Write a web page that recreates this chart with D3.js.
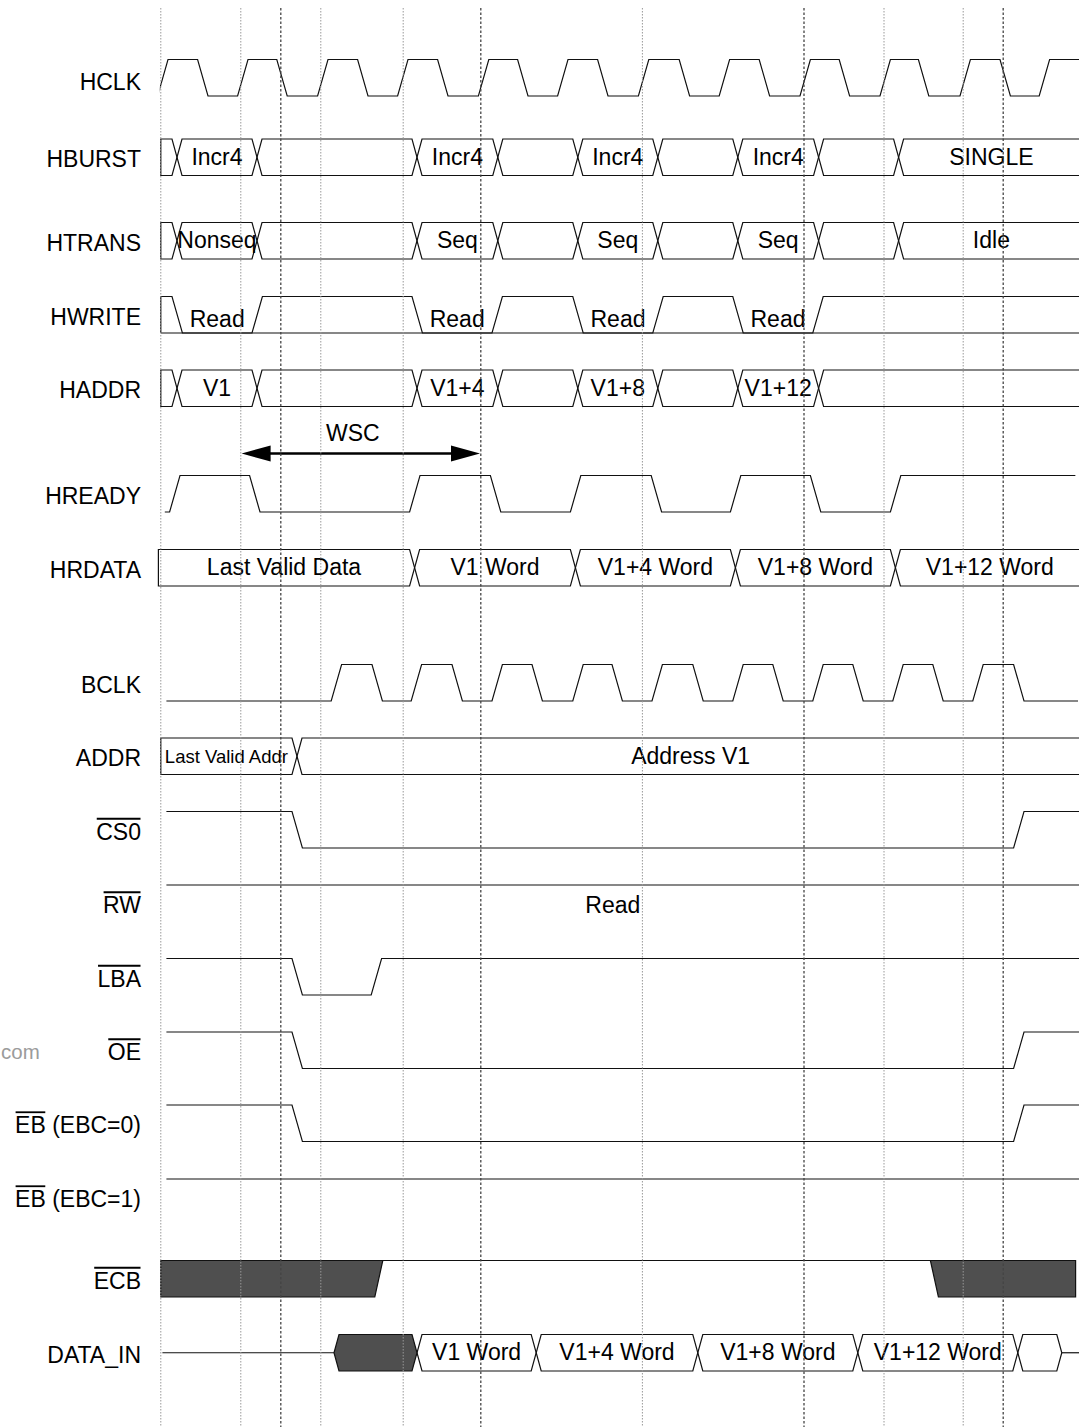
<!DOCTYPE html>
<html>
<head>
<meta charset="utf-8">
<script src="https://cdn.jsdelivr.net/npm/d3@7/dist/d3.min.js"></script>
<style>
html,body{margin:0;padding:0;background:#fff;}
svg{display:block;}
text{font-family:"Liberation Sans", Arial, Helvetica, sans-serif;}
</style>
</head>
<body>
<svg id="chart" width="1079" height="1427"></svg>
<script>
// ================= DATA (times in ns) =================
const signalNames = ["HCLK","HBURST","HTRANS","HWRITE","HADDR","HREADY","HRDATA","BCLK","ADDR","CS0","RW","LBA","OE","EB (EBC=0)","EB (EBC=1)","ECB","DATA_IN"];
const overlinedPart = [null,null,null,null,null,null,null,null,null,"CS0","RW","LBA","OE","EB","EB","ECB",null];

const gridLight = [0.1, 10.1, 20.1, 30.4, 60.3, 90.5, 100.4];
const gridHeavy = [15.1, 40.1, 80.5, 105.4];

const hclkRise = [-0.3, 9.7, 19.7, 29.7, 39.8, 49.7, 59.8, 69.9, 80.0, 90.0, 100.0, 109.9];
const hclkFall = [4.7, 14.6, 24.7, 34.7, 44.7, 54.7, 64.9, 74.9, 84.9, 94.8, 105.0];

const busTimes     = [0.1, 1.5, 11.5, 31.5, 41.6, 51.6, 61.6, 71.6, 81.7, 91.7];
const hburstValues = ["", "Incr4", "", "Incr4", "", "Incr4", "", "Incr4", "", "SINGLE"];
const htransValues = ["", "Nonseq", "", "Seq", "", "Seq", "", "Seq", "", "Idle"];
const haddrTimes   = [0.1, 1.5, 11.5, 31.5, 41.6, 51.6, 61.6, 71.6, 81.7];
const haddrValues  = ["", "V1", "", "V1+4", "", "V1+8", "", "V1+12", ""];

const hwriteRise = [11.5, 41.5, 61.6, 81.6];
const hwriteFall = [1.5, 31.5, 51.6, 71.6];
const hwriteText = ["Read", "Read", "Read", "Read"];

const hreadyRise = [1.2, 31.2, 51.3, 71.3, 91.3];
const hreadyFall = [11.2, 41.3, 61.4, 81.3];

const hrdataTimes  = [-0.2, 31.2, 51.3, 71.3, 91.3];
const hrdataValues = ["Last Valid Data", "V1 Word", "V1+4 Word", "V1+8 Word", "V1+12 Word"];

const wscSpan  = [10.2, 40.0];
const wscLabel = "WSC";

const bclkRise = [21.4, 31.4, 41.5, 51.6, 61.5, 71.6, 81.6, 91.6, 101.6];
const bclkFall = [26.5, 36.5, 46.5, 56.5, 66.6, 76.6, 86.6, 96.6, 106.7];

const addrTimes  = [0.1, 16.5];
const addrValues = ["Last Valid Addr", "Address V1"];

const cs0Rise = [106.7], cs0Fall = [16.5];
const rwText  = "Read";
const lbaRise = [26.4],  lbaFall = [16.5];
const oeRise  = [106.7], oeFall  = [16.5];
const eb0Rise = [106.7], eb0Fall = [16.5];

const ecbTimes  = [0.1, 26.85, 96.3];
const ecbValues = ["X", 1, "X"];

const dataInTimes  = [0.3, 21.75, 31.5, 46.4, 66.6, 86.6, 106.6, 112.1];
const dataInValues = ["Z", "X", "V1 Word", "V1+4 Word", "V1+8 Word", "V1+12 Word", "", "Z"];

const watermark = "com";

// ================= LAYOUT / STYLE =================
const rowTop = [59.5, 139, 222.5, 296.5, 370, 475.5, 549.5, 664.5, 738, 811.5, 885, 958.5, 1032, 1105, 1179, 1260.5, 1334.5];
const rowH = 36.5;
const labelRight = 141;
const FONT = 23;
const INK = "#111";
const X_FILL = "#4f4f4f";
const EDGE = 1.3, CROSS = 1.25, ECB_EDGE = 1.0;
const END = 114.9;

const edgesOf = (rise, fall) => rise.map(t => [t, 1]).concat(fall.map(t => [t, 0])).sort((a, b) => a[0] - b[0]);

const signals = [
  {type: "wave", init: 0, edges: edgesOf(hclkRise, hclkFall), start: 0.1, end: END},
  {type: "bus", times: busTimes, values: hburstValues, end: END},
  {type: "bus", times: busTimes, values: htransValues, end: END},
  {type: "wavebox", init: 1, edges: edgesOf(hwriteRise, hwriteFall), start: 0.1, end: END, lowText: hwriteText},
  {type: "bus", times: haddrTimes, values: haddrValues, end: END},
  {type: "wave", init: 0, edges: edgesOf(hreadyRise, hreadyFall), start: 0.6, end: 114.45},
  {type: "bus", times: hrdataTimes, values: hrdataValues, end: END},
  {type: "wave", init: 0, edges: edgesOf(bclkRise, bclkFall), start: 0.8, end: 114.75},
  {type: "bus", times: addrTimes, values: addrValues, end: END, sizes: [18.5, FONT]},
  {type: "wave", init: 1, edges: edgesOf(cs0Rise, cs0Fall), start: 0.8, end: END},
  {type: "wave", init: 1, edges: [], start: 0.8, end: END, text: rwText},
  {type: "wave", init: 1, edges: edgesOf(lbaRise, lbaFall), start: 0.8, end: END},
  {type: "wave", init: 1, edges: edgesOf(oeRise, oeFall), start: 0.8, end: END},
  {type: "wave", init: 1, edges: edgesOf(eb0Rise, eb0Fall), start: 0.8, end: END},
  {type: "wave", init: 1, edges: [], start: 0.8, end: END},
  {type: "mixed", times: ecbTimes, values: ecbValues, end: 114.45},
  {type: "bus", times: dataInTimes, values: dataInValues, end: END}
];

// ================= RENDER =================
const svg = d3.select("#chart");
const x = d3.scaleLinear().domain([0, 115]).range([160, 1080]);
const defs = svg.append("defs");
const gW = svg.append("g");
const gT = svg.append("g");
const gG = svg.append("g");

function yScale(i) { return d3.scaleLinear().domain([0, 1]).range([rowTop[i] + rowH, rowTop[i]]); }

function addText(g, str, px, py, size, anchor) {
  return g.append("text").attr("x", px).attr("y", py).attr("font-size", size)
    .attr("text-anchor", anchor || "middle").attr("fill", "#000").text(str);
}

signals.forEach((s, i) => {
  const y = yScale(i);
  const top = y(1), bot = y(0), mid = y(0.5);
  const g = gW.append("g");

  if (s.type === "wave" || s.type === "wavebox") {
    let lvl = s.init;
    const first = s.edges.length ? Math.min(s.start, s.edges[0][0]) : s.start;
    const pts = [];
    if (s.type === "wavebox") pts.push([s.start, 0]);
    pts.push([first, lvl]);
    s.edges.forEach(([t, l]) => { pts.push([t, lvl]); pts.push([t + EDGE, l]); lvl = l; });
    pts.push([s.end, lvl]);
    const clipId = "clip" + i;
    defs.append("clipPath").attr("id", clipId).append("rect")
      .attr("x", x(s.start) - 1).attr("y", top - 4)
      .attr("width", x(s.end) - x(s.start) + 1).attr("height", rowH + 8);
    g.append("path").attr("d", d3.line().x(d => x(d[0])).y(d => y(d[1]))(pts))
      .attr("fill", "none").attr("stroke", INK).attr("stroke-width", 1.2)
      .attr("stroke-linejoin", "miter").attr("clip-path", "url(#" + clipId + ")");
    if (s.type === "wavebox") {
      g.append("line").attr("x1", x(s.start)).attr("x2", x(s.end)).attr("y1", bot).attr("y2", bot)
        .attr("stroke", INK).attr("stroke-width", 1.2);
      let k = 0;
      s.edges.forEach(([t, l], j) => {
        if (l === 0 && j + 1 < s.edges.length && s.lowText[k] !== undefined) {
          const a = t + EDGE, b = s.edges[j + 1][0];
          addText(gT, s.lowText[k++], x((a + b) / 2), bot - 6.5, FONT);
        }
      });
    }
    if (s.text) addText(gT, s.text, x((s.start + s.end) / 2) - 10, top + 28, FONT);
  }

  if (s.type === "bus") {
    const n = s.times.length;
    const half = CROSS / 2;
    for (let k = 0; k < n; k++) {
      const v = s.values[k];
      const a = s.times[k];
      const last = k === n - 1;
      const b = last ? s.end : s.times[k + 1];
      const prevZ = k > 0 && s.values[k - 1] === "Z";
      if (v === "Z") {
        const lx = k === 0 ? a : a + half;
        g.append("line").attr("x1", x(lx)).attr("x2", x(b)).attr("y1", mid).attr("y2", mid)
          .attr("stroke", INK).attr("stroke-width", 1.2);
        continue;
      }
      let leftTip, leftOpen;
      if (k === 0) { leftTip = a; leftOpen = a; }
      else if (prevZ) { leftTip = a; leftOpen = a + half; }
      else { leftTip = a + half; leftOpen = a + CROSS; }
      const p = d3.path();
      if (last) {
        p.moveTo(x(b), top); p.lineTo(x(leftOpen), top);
        if (k === 0) p.lineTo(x(leftOpen), bot); else { p.lineTo(x(leftTip), mid); p.lineTo(x(leftOpen), bot); }
        p.lineTo(x(b), bot);
      } else {
        const rightTip = b + half;
        p.moveTo(x(leftOpen), top); p.lineTo(x(b), top); p.lineTo(x(rightTip), mid);
        p.lineTo(x(b), bot); p.lineTo(x(leftOpen), bot);
        if (k !== 0) p.lineTo(x(leftTip), mid);
        p.closePath();
      }
      g.append("path").attr("d", p.toString())
        .attr("fill", v === "X" ? X_FILL : "none")
        .attr("stroke", INK).attr("stroke-width", 1.2).attr("stroke-linejoin", "miter");
      if (v && v !== "X") {
        const size = s.sizes ? s.sizes[k] : FONT;
        addText(gT, v, x((leftOpen + b) / 2), mid + (size < FONT ? 6.5 : 7.5), size);
      }
    }
  }

  if (s.type === "mixed") {
    const n = s.times.length;
    for (let k = 0; k < n; k++) {
      const v = s.values[k];
      const a = s.times[k];
      const last = k === n - 1;
      const b = last ? s.end : s.times[k + 1];
      if (v === "X") {
        const lt = a, lb = k === 0 ? a : a + ECB_EDGE;
        const rt = last ? b : b + ECB_EDGE, rb = b;
        const poly = [[lt, 1], [rt, 1], [rb, 0], [lb, 0]];
        g.append("path").attr("d", d3.line().x(d => x(d[0])).y(d => y(d[1]))(poly) + "Z")
          .attr("fill", X_FILL).attr("stroke", INK).attr("stroke-width", 1.2);
      } else {
        const a2 = k === 0 ? a : a + ECB_EDGE;
        g.append("line").attr("x1", x(a2)).attr("x2", x(b)).attr("y1", y(v)).attr("y2", y(v))
          .attr("stroke", INK).attr("stroke-width", 1.2);
      }
    }
  }

  // signal name label
  const cy = rowTop[i] + rowH / 2;
  const base = i === 0 ? cy + 12 : cy + 10;
  const lab = addText(gT, signalNames[i], labelRight, base, FONT, "end");
  if (overlinedPart[i]) {
    const bb = lab.node().getBBox();
    const tmp = addText(gT, overlinedPart[i], 0, -100, FONT, "start");
    const w = tmp.node().getComputedTextLength();
    tmp.remove();
    gT.append("line").attr("x1", bb.x + 0.5).attr("x2", bb.x + w - 0.5)
      .attr("y1", base - 21).attr("y2", base - 21)
      .attr("stroke", "#000").attr("stroke-width", 1.8);
  }
});

// WSC arrow (above HREADY)
{
  const ay = rowTop[5] - 22;
  const x0 = x(wscSpan[0]), x1 = x(wscSpan[1]);
  const al = 29, ah = 8;
  gW.append("line").attr("x1", x0 + al - 2).attr("x2", x1 - al + 2).attr("y1", ay).attr("y2", ay)
    .attr("stroke", "#000").attr("stroke-width", 2.3);
  gW.append("path").attr("d", `M${x0},${ay}L${x0 + al},${ay - ah}L${x0 + al},${ay + ah}Z`).attr("fill", "#000");
  gW.append("path").attr("d", `M${x1},${ay}L${x1 - al},${ay - ah}L${x1 - al},${ay + ah}Z`).attr("fill", "#000");
  addText(gT, wscLabel, (x0 + x1) / 2 - 8, ay - 13, FONT);
}

// watermark fragment
addText(gT, watermark, 1, 1059, 20.5, "start").attr("fill", "#9b9b9b");

// vertical dotted grid lines (drawn on top)
gG.selectAll("line.light").data(gridLight).join("line").attr("class", "light")
  .attr("x1", d => x(d)).attr("x2", d => x(d)).attr("y1", 8).attr("y2", 1427)
  .attr("stroke", "#999").attr("stroke-width", 1).attr("stroke-dasharray", "1.5,1.5");
gG.selectAll("line.heavy").data(gridHeavy).join("line").attr("class", "heavy")
  .attr("x1", d => x(d)).attr("x2", d => x(d)).attr("y1", 8).attr("y2", 1427)
  .attr("stroke", "#444").attr("stroke-width", 1.3).attr("stroke-dasharray", "2.5,2");
</script>
</body>
</html>
